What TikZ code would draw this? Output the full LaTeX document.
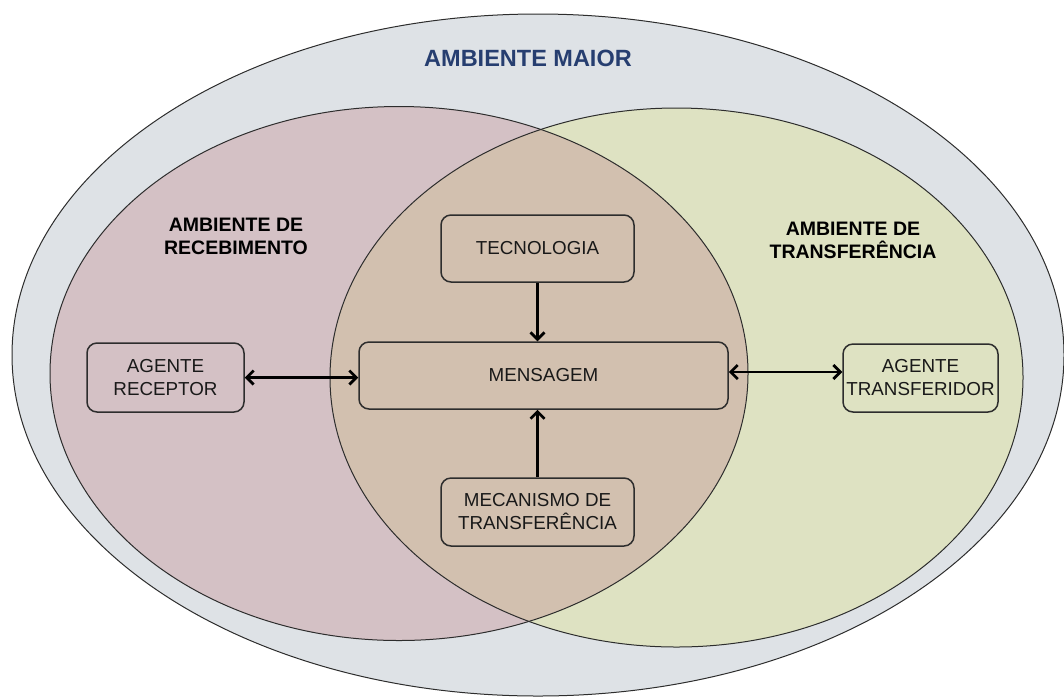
\documentclass[tikz,border=0pt]{standalone}
\usepackage{fontspec}
\setmainfont{Liberation Sans}
\usetikzlibrary{arrows.meta}
\definecolor{outerc}{RGB}{222,226,230}
\definecolor{pinkc}{RGB}{212,193,197}
\definecolor{greenc}{RGB}{222,226,194}
\definecolor{midc}{RGB}{210,192,175}
\definecolor{titlec}{RGB}{38,62,112}
\definecolor{linec}{RGB}{45,45,45}
\begin{document}
\begin{tikzpicture}[x=1pt,y=-1pt,
  envline/.style={draw=linec, line width=1pt},
  box/.style={draw=linec, line width=1.5pt, rounded corners=10pt, align=center,
    inner sep=0pt, font=\fontsize{18.8}{23}\selectfont, text=black!90},
  envlabel/.style={align=center, font=\bfseries\fontsize{19.5}{23}\selectfont, text=black},
  arr/.style={line width=2.8pt, draw=black, {Straight Barb[length=7pt,width=14pt]}-{Straight Barb[length=7pt,width=14pt]}},
  arrone/.style={line width=2.8pt, draw=black, -{Straight Barb[length=7pt,width=14pt]}}]
\useasboundingbox (0,0) rectangle (1064,697);
% outer environment
\fill[outerc] (538,355) ellipse [x radius=526, y radius=341];
\draw[envline] (538,355) ellipse [x radius=526, y radius=341];
% receiving and transfer environments
\fill[pinkc] (399,373.5) ellipse [x radius=349, y radius=267];
\fill[greenc] (676.5,377.5) ellipse [x radius=346.5, y radius=269.5];
\begin{scope}
  \clip (399,373.5) ellipse [x radius=349, y radius=267];
  \fill[midc] (676.5,377.5) ellipse [x radius=346.5, y radius=269.5];
\end{scope}
\draw[envline] (399,373.5) ellipse [x radius=349, y radius=267];
\draw[envline] (676.5,377.5) ellipse [x radius=346.5, y radius=269.5];
% labels
\node[font=\bfseries\fontsize{23.5}{28}\selectfont, text=titlec] (maior) at (528,58) {AMBIENTE MAIOR};
\node[envlabel] (arec) at (236,236) {AMBIENTE DE\\RECEBIMENTO};
\node[envlabel] (atrf) at (853,240.5) {AMBIENTE DE\\TRANSFER\^ENCIA};
% boxes
\node[box, minimum width=193pt, minimum height=67pt] (tec) at (537.5,248.5) {TECNOLOGIA};
\node[box, minimum width=369pt, minimum height=67pt] (mens) at (543.5,375.5) {MENSAGEM};
\node[box, minimum width=193pt, minimum height=68pt] (mec) at (537.5,512) {MECANISMO DE\\TRANSFER\^ENCIA};
\node[box, minimum width=157pt, minimum height=69pt] (rec) at (165.5,377.5) {AGENTE\\RECEPTOR};
\node[box, minimum width=155pt, minimum height=68pt] (trf) at (920.5,378) {AGENTE\\TRANSFERIDOR};
% connectors
\draw[arrone] (tec.south) -- (tec.south |- mens.north);
\draw[arrone] (mec.north) -- (mec.north |- mens.south);
\draw[arr] (rec.east) -- (rec.east -| mens.west);
\draw[arr] ([yshift=6pt]trf.west) -- ([yshift=6pt]trf.west -| mens.east);
\end{tikzpicture}
\end{document}
